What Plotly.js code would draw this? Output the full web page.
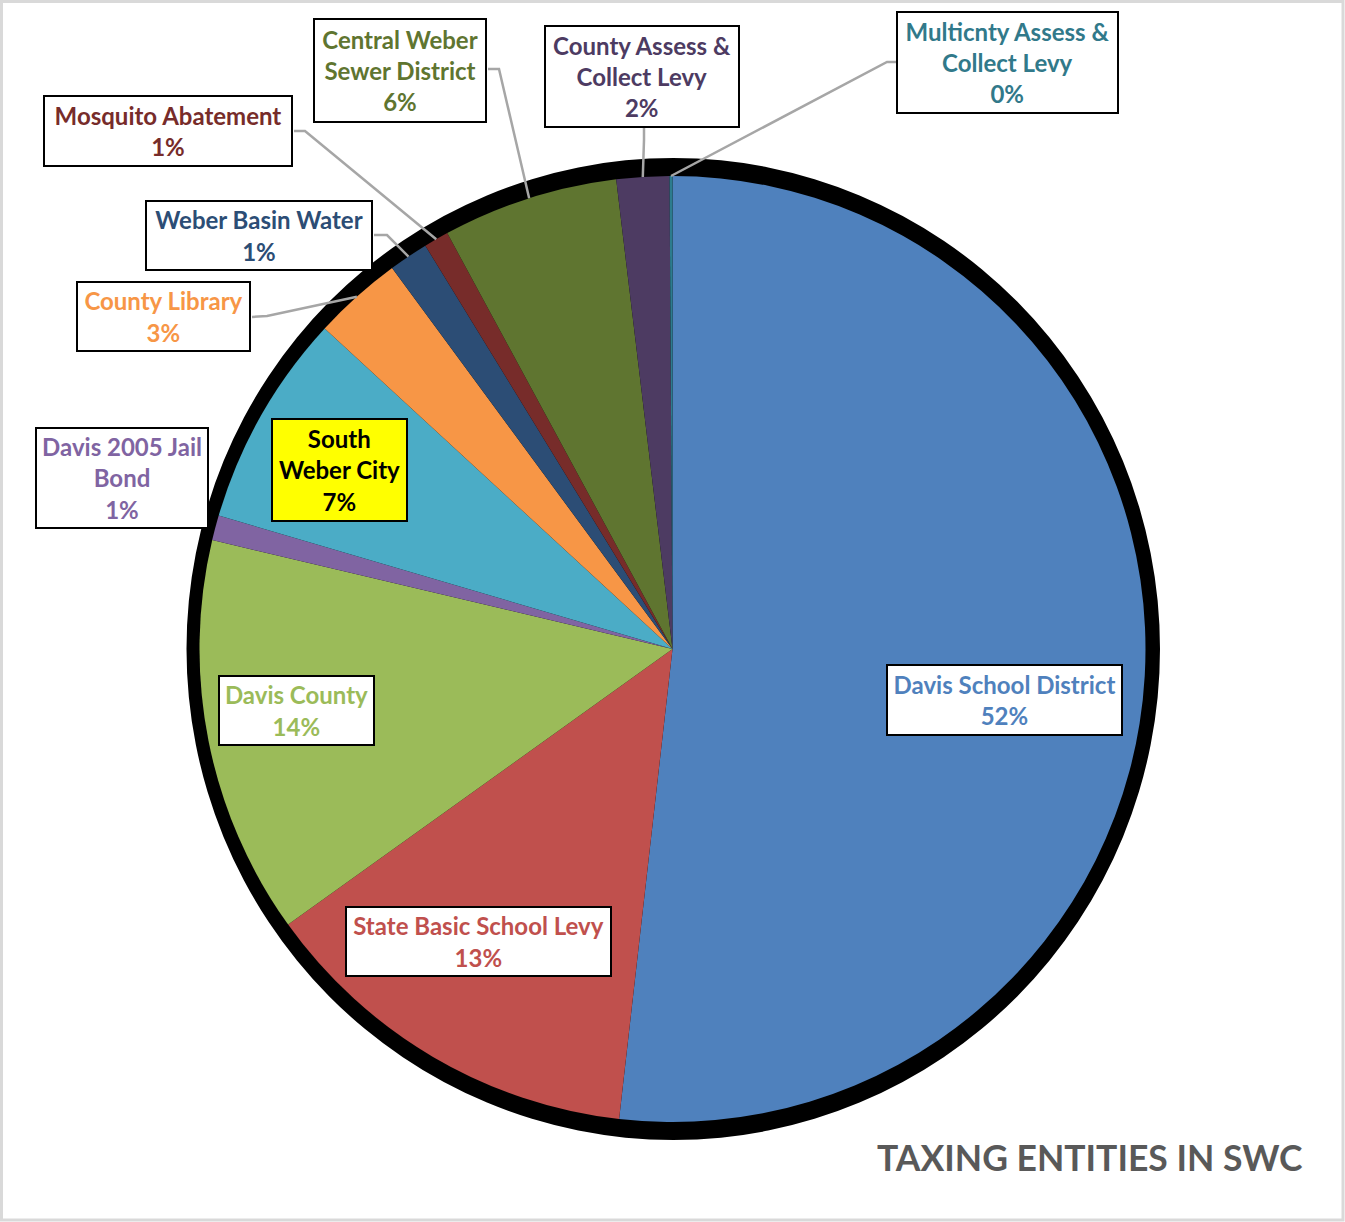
<!DOCTYPE html>
<html>
<head>
<meta charset="utf-8">
<script src="https://cdn.plot.ly/plotly-3.0.1.min.js"></script>
<style>
  html, body { margin: 0; padding: 0; background: #ffffff; }
  #chart { width: 1345px; height: 1222px; }
</style>
</head>
<body>
<div id="chart"></div>
<script>
// ---------- DATA ----------
const labels = [
  'Davis School District',
  'State Basic School Levy',
  'Davis County',
  'Davis 2005 Jail Bond',
  'South Weber City',
  'County Library',
  'Weber Basin Water',
  'Mosquito Abatement',
  'Central Weber Sewer District',
  'County Assess & Collect Levy',
  'Multicnty Assess & Collect Levy'
];
const values = [51.8, 13.3, 13.6, 0.85, 7.3, 3.05, 1.35, 0.85, 6.0, 1.8, 0.1];
const boxText = [
  'Davis School District',
  'State Basic School Levy',
  'Davis County',
  'Davis 2005 Jail<br>Bond',
  'South<br>Weber City',
  'County Library',
  'Weber Basin Water',
  'Mosquito Abatement',
  'Central Weber<br>Sewer District',
  'County Assess &<br>Collect Levy',
  'Multicnty Assess &<br>Collect Levy'
];
const chartTitle = 'TAXING ENTITIES IN SWC';

// ---------- STYLE ----------
const sliceColors = ['#4F81BD', '#C0504D', '#9BBB59', '#8064A2', '#4BACC6', '#F79646',
                     '#2C4D75', '#772C2A', '#5F7530', '#4D3B62', '#2C7C8E'];
const textColors  = ['#4F81BD', '#C0504D', '#9BBB59', '#8064A2', '#000000', '#F79646',
                     '#2C4D75', '#772C2A', '#5F7530', '#4D3B62', '#31798A'];
const boxFill     = ['#FFFFFF', '#FFFFFF', '#FFFFFF', '#FFFFFF', '#FFFF00', '#FFFFFF',
                     '#FFFFFF', '#FFFFFF', '#FFFFFF', '#FFFFFF', '#FFFFFF'];

const W = 1345, H = 1222;
const cx = 672.5, cy = 649, R = 473;          // pie geometry in px
// label boxes: [centerX, centerY, width, height] in px
const boxes = [
  [1004.5, 700, 237, 72],
  [478.5, 941.5, 267, 71],
  [296.5, 710.5, 157, 71],
  [122, 478, 174, 102],
  [339.5, 470, 137, 104],
  [163.5, 316.5, 175, 71],
  [259, 235.5, 228, 71],
  [168, 131, 250, 72],
  [400, 70.5, 174, 105],
  [642, 76.5, 196, 103],
  [1007.5, 62.5, 223, 103]
];
// leader lines: slice index -> [box attach point, elbow point] in px
const leaders = {
  5:  [[252, 317], [267, 316]],
  6:  [[374, 235], [387, 235]],
  7:  [[294, 131], [305, 131]],
  8:  [[488, 69], [499, 69]],
  9:  [[644, 128], [644, 140]],
  10: [[896, 62], [887, 62]]
};

const px = x => x / W;
const py = y => 1 - y / H;

const total = values.reduce((a, b) => a + b, 0);
const midAngles = [];
let cum = 0;
values.forEach(v => { midAngles.push((cum + v / 2) / total * 2 * Math.PI); cum += v; });

const annotations = labels.map((lab, i) => {
  const b = boxes[i];
  const pct = Math.round(values[i] / total * 100) + '%';
  return {
    xref: 'paper', yref: 'paper',
    x: px(b[0]), y: py(b[1]),
    xanchor: 'center', yanchor: 'middle',
    text: boxText[i] + '<br>' + pct,
    showarrow: false,
    width: b[2] - 4, height: b[3] - 4,
    borderpad: 0,
    bordercolor: '#000000', borderwidth: 2,
    bgcolor: boxFill[i],
    align: 'center', valign: 'middle',
    font: { family: 'Lato, "Open Sans", sans-serif', size: 24, color: textColors[i], weight: 'bold' }
  };
});
annotations.push({
  xref: 'paper', yref: 'paper',
  x: px(1090), y: py(1157),
  xanchor: 'center', yanchor: 'middle',
  text: '<b>' + chartTitle + '</b>',
  showarrow: false,
  font: { family: 'Lato, "Open Sans", sans-serif', size: 35.5, color: '#595959' }
});

const shapes = [
  { type: 'rect', xref: 'paper', yref: 'paper', x0: px(1.5), x1: px(1343), y0: py(1220), y1: py(1.5),
    line: { color: '#D9D9D9', width: 3 }, fillcolor: 'rgba(0,0,0,0)', layer: 'below' },
  { type: 'circle', xref: 'paper', yref: 'paper',
    x0: px(186.5), x1: px(1160), y0: py(1140), y1: py(158),
    fillcolor: '#000000', line: { width: 0 }, layer: 'below' }
];
Object.keys(leaders).forEach(k => {
  const i = +k;
  const a = midAngles[i];
  const ex = cx + R * Math.sin(a), ey = cy - R * Math.cos(a);
  const [p0, p1] = leaders[k];
  shapes.push({
    type: 'path', xref: 'paper', yref: 'paper',
    path: `M ${px(p0[0])},${py(p0[1])} L ${px(p1[0])},${py(p1[1])} L ${px(ex)},${py(ey)}`,
    line: { color: '#A6A6A6', width: 2.5 }, layer: 'above'
  });
});

const trace = {
  type: 'pie',
  labels: labels,
  values: values,
  sort: false,
  direction: 'clockwise',
  rotation: 0,
  textinfo: 'none',
  hoverinfo: 'label+percent',
  marker: { colors: sliceColors, line: { width: 0 } },
  domain: { x: [px(cx - R), px(cx + R)], y: [py(cy + R), py(cy - R)] },
  showlegend: false
};

const layout = {
  width: W, height: H,
  margin: { l: 0, r: 0, t: 0, b: 0 },
  paper_bgcolor: '#FFFFFF',
  showlegend: false,
  shapes: shapes,
  annotations: annotations
};

Plotly.newPlot('chart', [trace], layout, { displayModeBar: false, staticPlot: true });
</script>
</body>
</html>
